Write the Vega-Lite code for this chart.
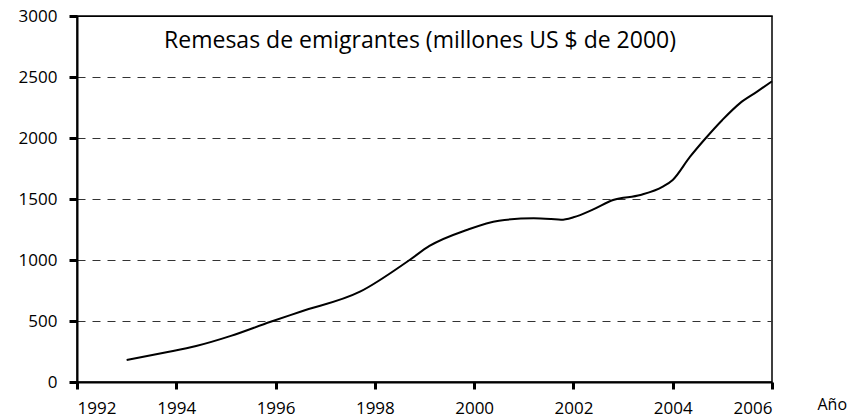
{
  "$schema": "https://vega.github.io/schema/vega-lite/v6.json",
  "width": 695,
  "height": 366,
  "autosize": {"type": "none"},
  "padding": {"left": 77, "top": 16, "right": 80, "bottom": 36},
  "background": "white",
  "config": {
    "font": "Open Sans",
    "view": {"stroke": "black", "strokeWidth": 1.5},
    "axis": {"labelColor": "black", "titleColor": "black", "domainColor": "black", "tickColor": "black"}
  },
  "data": {
    "values": [
      {"year": 1993.0, "value": 180},
      {"year": 1993.75, "value": 240},
      {"year": 1994.4, "value": 295},
      {"year": 1995.1, "value": 378},
      {"year": 1995.9, "value": 494},
      {"year": 1996.5, "value": 576},
      {"year": 1997.7, "value": 740},
      {"year": 1998.7, "value": 1000},
      {"year": 1999.1, "value": 1115},
      {"year": 1999.85, "value": 1246},
      {"year": 2000.5, "value": 1322},
      {"year": 2001.2, "value": 1342},
      {"year": 2001.55, "value": 1336},
      {"year": 2001.75, "value": 1330},
      {"year": 2002.0, "value": 1350},
      {"year": 2002.4, "value": 1415},
      {"year": 2002.8, "value": 1492},
      {"year": 2003.35, "value": 1533},
      {"year": 2003.8, "value": 1601},
      {"year": 2004.0, "value": 1656},
      {"year": 2004.35, "value": 1847},
      {"year": 2004.65, "value": 1992},
      {"year": 2005.0, "value": 2148},
      {"year": 2005.35, "value": 2284},
      {"year": 2005.7, "value": 2380},
      {"year": 2006.0, "value": 2465}
    ]
  },
  "layer": [
    {
      "mark": {"type": "line", "color": "black", "strokeWidth": 2, "interpolate": "monotone"},
      "encoding": {
        "x": {
          "field": "year",
          "type": "quantitative",
          "scale": {"domain": [1992, 2006], "nice": false, "zero": false},
          "axis": {
            "values": [1992, 1994, 1996, 1998, 2000, 2002, 2004, 2006],
            "format": "d",
            "grid": false,
            "tickSize": 7,
            "tickWidth": 3,
            "domainWidth": 2,
            "labelFontSize": 17,
            "labelPadding": 11,
            "title": "Año",
            "titleFontSize": 16,
            "titleFontWeight": "normal",
            "titleX": 740,
            "titleY": 27,
            "titleAlign": "left",
            "titleBaseline": "alphabetic",
            "titleAnchor": null
          }
        },
        "y": {
          "field": "value",
          "type": "quantitative",
          "scale": {"domain": [0, 3000], "nice": false},
          "axis": {
            "values": [0, 500, 1000, 1500, 2000, 2500, 3000],
            "format": "d",
            "grid": true,
            "gridColor": {"condition": {"test": "datum.value >= 3000", "value": "black"}, "value": "#333333"},
            "gridDash": {"condition": {"test": "datum.value >= 3000", "value": []}, "value": [8, 7]},
            "gridWidth": 1,
            "tickSize": 8,
            "tickWidth": 3,
            "domainWidth": 2,
            "labelFontSize": 17,
            "labelPadding": 12,
            "title": null
          }
        }
      }
    },
    {
      "data": {"values": [{"label": "Remesas de emigrantes (millones US $ de 2000)"}]},
      "mark": {"type": "text", "fontSize": 23, "color": "black", "align": "center", "baseline": "alphabetic", "font": "Open Sans"},
      "encoding": {
        "x": {"datum": 1998.91, "type": "quantitative"},
        "y": {"datum": 2738, "type": "quantitative"},
        "text": {"field": "label"}
      }
    }
  ]
}
